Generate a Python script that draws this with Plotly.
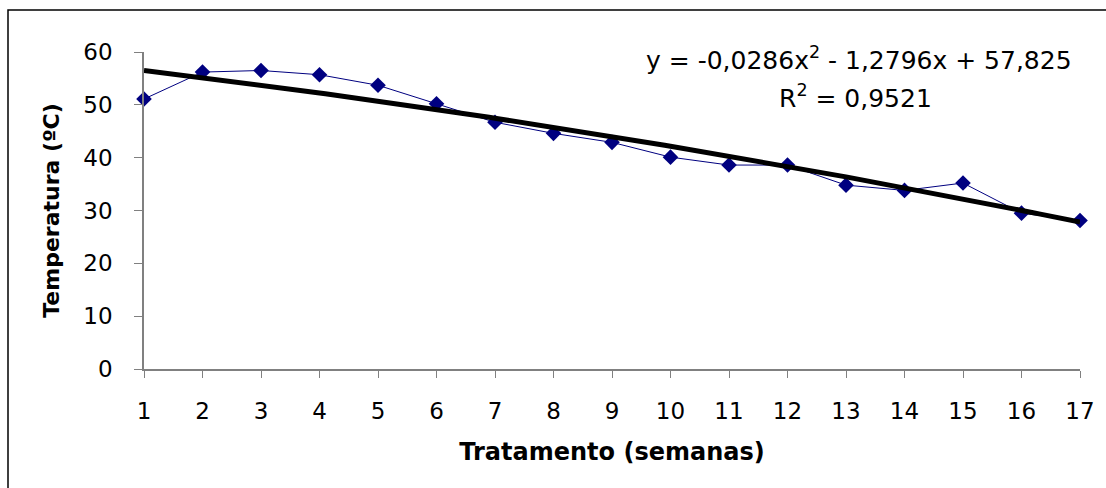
import numpy as np
import plotly.graph_objects as go

semanas = list(range(1, 18))
temperatura = [51.1, 56.2, 56.5, 55.7, 53.7, 50.2, 46.7, 44.6, 42.9, 40.1,
               38.6, 38.6, 34.8, 33.8, 35.2, 29.5, 28.1]
# trendline coefficients as displayed on the chart (a2, a1, a0)
trend_coeffs = [-0.0286, -1.2796, 57.825]
eq_text = "y = -0,0286x<sup>2</sup> - 1,2796x + 57,825"
r2_text = "R<sup>2</sup> = 0,9521"
y_ticks = [0, 10, 20, 30, 40, 50, 60]

xt = np.linspace(1, 17, 161)
yt = np.polyval(trend_coeffs, xt)

W, H = 1106, 488
L, R, T, B = 144, 26, 52, 119

FAM = "DejaVu Sans, sans-serif"
fig = go.Figure()
fig.add_trace(go.Scatter(
    x=semanas, y=temperatura, mode="lines+markers",
    line=dict(color="#000080", width=1),
    marker=dict(symbol="diamond", size=12, color="#000080"),
    cliponaxis=False, showlegend=False))
fig.add_trace(go.Scatter(
    x=xt, y=yt, mode="lines",
    line=dict(color="black", width=5),
    cliponaxis=False, showlegend=False))

font = dict(family=FAM, size=23, color="black")

fig.update_layout(
    width=W, height=H,
    margin=dict(l=L, r=R, t=T, b=B),
    paper_bgcolor="white", plot_bgcolor="white",
    font=font,
    xaxis=dict(range=[1, 17], tickmode="array", tickvals=semanas,
               showline=True, linecolor="#808080", linewidth=1.5,
               ticks="outside", ticklen=7, tickcolor="#808080",
               tickfont=dict(family=FAM, size=23, color="black"),
               showgrid=False, zeroline=False, ticklabelstandoff=14,
               title=dict(text="<b>Tratamento (semanas)</b>", standoff=20,
                          font=dict(family=FAM, size=24, color="black"))),
    yaxis=dict(range=[0, 60], tickmode="array", tickvals=y_ticks,
               showline=True, linecolor="#808080", linewidth=1.5,
               ticks="outside", ticklen=8, tickcolor="#808080",
               tickfont=dict(family=FAM, size=23, color="black"),
               showgrid=False, zeroline=False, ticklabelstandoff=17,
               title=dict(text="<b>Temperatura (ºC)</b>", standoff=18,
                          font=dict(family=FAM, size=22, color="black"))),
    annotations=[
        dict(text=eq_text, x=(859 - L) / (W - L - R), y=(H - B - 58) / (H - T - B),
             xref="paper", yref="paper", showarrow=False,
             font=dict(family=FAM, size=25, color="black"),
             xanchor="center", yanchor="middle"),
        dict(text=r2_text, x=(855 - L) / (W - L - R), y=(H - B - 96) / (H - T - B),
             xref="paper", yref="paper", showarrow=False,
             font=dict(family=FAM, size=25, color="black"),
             xanchor="center", yanchor="middle"),
    ],
    shapes=[dict(type="rect", xref="paper", yref="paper",
                 x0=(8 - L) / (W - L - R), x1=(1112 - L) / (W - L - R),
                 y0=(H - B - 500) / (H - T - B), y1=(H - B - 10) / (H - T - B),
                 line=dict(color="black", width=1.5), layer="below")],
)

fig.write_html("out.html")
